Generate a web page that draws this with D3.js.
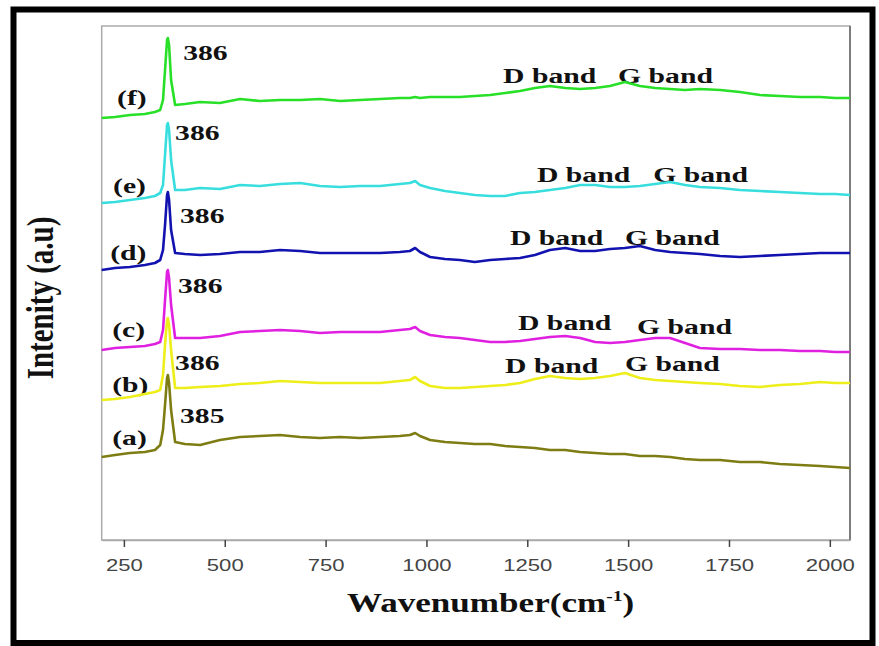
<!DOCTYPE html>
<html>
<head>
<meta charset="utf-8">
<script src="https://cdnjs.cloudflare.com/ajax/libs/d3/7.8.5/d3.min.js"></script>
<style>
  body { margin: 0; background: #fff; }
  .lbl { font-family: "Liberation Serif", "Times New Roman", serif; font-weight: bold; fill: #111; }
</style>
</head>
<body>
<script>
// wavenumber samples (cm-1), shared by all spectra
var wavenumbers = [195, 228, 265, 302, 327, 340, 347, 352, 357, 359, 362, 367, 377, 401, 439, 488, 538, 587, 637, 687,
  736, 786, 835, 885, 934, 959, 972, 984, 1009, 1046, 1083, 1120, 1158, 1195, 1232, 1269, 1306, 1344, 1381, 1418,
  1455, 1492, 1529, 1567, 1604, 1641, 1678, 1728, 1777, 1827, 1876, 1926, 1976, 2013, 2050];

// stacked intensities (a.u.)
var specA = [83, 85, 87, 88, 90, 95, 110, 135, 162, 165, 157, 130, 98, 96, 95, 100, 103, 104, 105, 103,
  102, 103, 102, 103, 104, 105, 107, 104, 100, 98, 97, 96, 96, 94, 93, 92, 90, 90, 88, 87,
  86, 86, 84, 84, 83, 81, 80, 80, 78, 78, 76, 75, 74, 73, 72];
var specB = [140, 141, 143, 146, 148, 150, 165, 195, 220, 222, 215, 190, 152, 152, 153, 154, 156, 157, 159, 158,
  157, 157, 157, 157, 159, 160, 163, 159, 154, 152, 152, 153, 154, 155, 157, 161, 164, 162, 161, 162,
  164, 167, 162, 160, 159, 158, 157, 156, 154, 153, 155, 156, 158, 157, 157];
var specC = [190, 192, 193, 194, 196, 198, 210, 240, 268, 270, 262, 235, 202, 202, 202, 204, 208, 209, 210, 209,
  207, 208, 208, 208, 210, 211, 213, 209, 205, 203, 202, 200, 198, 198, 199, 201, 203, 204, 202, 198,
  197, 198, 200, 202, 202, 197, 192, 191, 191, 190, 190, 189, 189, 188, 188];
var specD = [270, 272, 273, 275, 277, 280, 290, 315, 345, 348, 340, 310, 287, 286, 285, 286, 288, 288, 290, 289,
  287, 287, 287, 287, 288, 289, 292, 288, 283, 281, 280, 278, 280, 281, 282, 285, 290, 292, 289, 289,
  291, 292, 294, 290, 288, 287, 286, 284, 283, 284, 285, 286, 287, 287, 287];
var specE = [337, 338, 340, 342, 344, 347, 355, 385, 415, 417, 410, 380, 350, 350, 352, 351, 355, 354, 356, 357,
  354, 353, 354, 354, 356, 357, 359, 355, 352, 349, 347, 345, 344, 344, 347, 348, 350, 352, 355, 355,
  353, 353, 354, 356, 358, 355, 353, 352, 350, 349, 348, 347, 346, 346, 345];
var specF = [422, 423, 425, 426, 428, 430, 440, 470, 500, 502, 495, 460, 435, 436, 438, 437, 441, 439, 440, 440,
  441, 439, 440, 441, 442, 442, 443, 442, 443, 443, 443, 444, 445, 447, 449, 452, 454, 452, 451, 452,
  454, 458, 454, 452, 451, 450, 451, 450, 448, 445, 444, 443, 443, 442, 442];

var seriesNames = ["(f)", "(e)", "(d)", "(c)", "(b)", "(a)"];
var seriesValues = [specF, specE, specD, specC, specB, specA];
var seriesColors = ["#27e027", "#38dede", "#1212b0", "#e020e0", "#eeee1a", "#7d7d14"];

var xTicks = [250, 500, 750, 1000, 1250, 1500, 1750, 2000];

// annotations in data units: [text, wavenumber, intensity]
var peakLabels = [["386", 397, 480], ["386", 377, 400], ["386", 389, 317], ["386", 384, 247], ["386", 377, 170], ["385", 389, 117]];
var nameLabels = [[233, 435], [223, 347], [216, 280], [221, 203], [221, 148], [221, 95]];
var dBand = [[1190, 457], [1274, 358], [1207, 295], [1227, 210], [1195, 167]];
var gBand = [[1475, 457], [1562, 358], [1492, 295], [1522, 206], [1492, 169]];

var W = 879, H = 646;
var plotL = 101.7, plotR = 850, plotT = 26, plotB = 540;

var svg = d3.select("body").append("svg").attr("width", W).attr("height", H);
svg.append("rect").attr("width", W).attr("height", H).attr("fill", "#fff");

var x = d3.scaleLinear().domain([195, 2050]).range([plotL, plotR]);
var y = d3.scaleLinear().domain([0, 514]).range([plotB, plotT]);

// plot frame
svg.append("rect")
  .attr("x", plotL).attr("y", plotT)
  .attr("width", plotR - plotL).attr("height", plotB - plotT)
  .attr("fill", "none").attr("stroke", "#aaa").attr("stroke-width", 1.5);
svg.append("line").attr("x1", plotR).attr("x2", plotR).attr("y1", plotT).attr("y2", plotB)
  .attr("stroke", "#666").attr("stroke-width", 1.5);

// x axis
var xAxis = svg.append("g")
  .attr("transform", "translate(0," + plotB + ")")
  .call(d3.axisBottom(x).tickValues(xTicks).tickSize(7).tickSizeOuter(0).tickFormat(d3.format("d")));
xAxis.select(".domain").attr("stroke", "#aaa").attr("stroke-width", 1.5);
xAxis.selectAll(".tick line").attr("stroke", "#444").attr("stroke-width", 1.5);
xAxis.selectAll(".tick text")
  .attr("y", 31).attr("dy", 0)
  .attr("transform", "scale(1.3,1)")
  .attr("fill", "#444")
  .style("font-family", "'Liberation Sans', Arial, sans-serif")
  .style("font-size", "17px");

function label(txt, px, py, size) {
  return svg.append("text").attr("class", "lbl")
    .attr("transform", "translate(" + px + "," + py + ") scale(1.35,1)")
    .style("font-size", size + "px")
    .text(txt);
}

// labels first, spectra drawn over them
peakLabels.forEach(function(d) { label(d[0], x(d[1]), y(d[2]), 22); });
nameLabels.forEach(function(d, i) { label(seriesNames[i], x(d[0]), y(d[1]), 22); });
dBand.forEach(function(d) { label("D band", x(d[0]), y(d[1]), 22); });
gBand.forEach(function(d) { label("G band", x(d[0]), y(d[1]), 22); });

var line = d3.line()
  .x(function(d) { return x(d[0]); })
  .y(function(d) { return y(d[1]); });

seriesValues.forEach(function(vals, i) {
  var pts = wavenumbers.map(function(w, j) { return [w, vals[j]]; });
  svg.append("path")
    .datum(pts)
    .attr("d", line)
    .attr("fill", "none")
    .attr("stroke", seriesColors[i])
    .attr("stroke-width", 2.6)
    .attr("stroke-linejoin", "round");
});

// axis titles
var xt = svg.append("text").attr("class", "lbl")
  .attr("transform", "translate(347,612) scale(1.3,1)")
  .style("font-size", "27px");
xt.append("tspan").text("Wavenumber(cm");
xt.append("tspan").attr("dy", -11).style("font-size", "15px").text("-1");
xt.append("tspan").attr("dy", 11).text(")");

svg.append("text").attr("class", "lbl")
  .attr("transform", "translate(53,298) scale(1.3,1) rotate(-90)")
  .attr("text-anchor", "middle")
  .style("font-size", "29px")
  .text("Intenity (a.u)");

// outer black border
svg.append("rect")
  .attr("x", 13.5).attr("y", 9.5)
  .attr("width", 859).attr("height", 633.5)
  .attr("fill", "none").attr("stroke", "#000").attr("stroke-width", 6);
</script>
</body>
</html>
